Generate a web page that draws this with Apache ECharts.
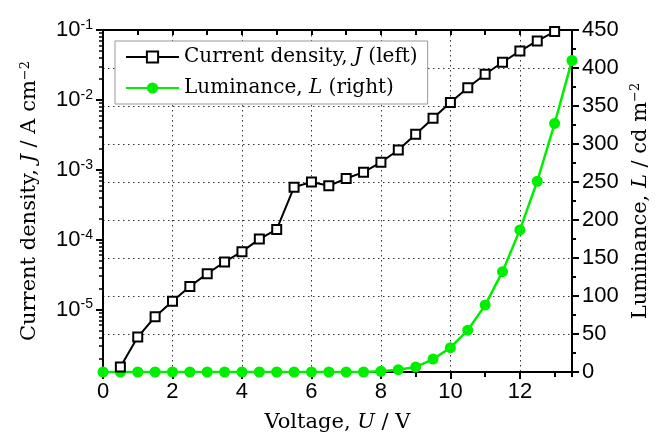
<!DOCTYPE html>
<html><head><meta charset="utf-8">
<script src="https://cdn.jsdelivr.net/npm/echarts@6/dist/echarts.min.js"></script>
<style>html,body{margin:0;padding:0;background:#fff}#c{width:662px;height:438px}</style>
</head><body><div id="c"></div>
<script>
// ---- data ----
const voltageJ = [0.5,1,1.5,2,2.5,3,3.5,4,4.5,5,5.5,6,6.5,7,7.5,8,8.5,9,9.5,10,10.5,11,11.5,12,12.5,13];
const currentDensity = [1.51e-6,4.04e-6,7.9e-6,1.32e-5,2.14e-5,3.27e-5,4.8e-5,6.75e-5,1.02e-4,1.40e-4,5.65e-4,6.7e-4,5.9e-4,7.5e-4,9.25e-4,1.28e-3,1.92e-3,3.22e-3,5.45e-3,9.2e-3,1.49e-2,2.33e-2,3.46e-2,5.0e-2,6.97e-2,9.5e-2];
const voltageL = [0,0.5,1,1.5,2,2.5,3,3.5,4,4.5,5,5.5,6,6.5,7,7.5,8,8.5,9,9.5,10,10.5,11,11.5,12,12.5,13,13.5];
const luminance = [0,0,0,0,0,0,0,0,0,0,0,0,0,0,0,0,1,3,6.5,17,32,55,88,132,187,251,327,410];
const nameJ = 'Current density, J (left)';
const nameL = 'Luminance, L (right)';
const logDecades = [1e-6, 1e-5, 1e-4, 1e-3, 1e-2];
const logMultipliers = [2, 3, 4, 5, 6, 7, 8, 9];

const serif = 'DejaVu Serif';
const sans = 'Liberation Sans';
const green = '#00ee00';
const jMin = 1.28e-6, jMax = 0.1;
const expMin = Math.log10(jMin), expMax = Math.log10(jMax);
const majorJExp = [-5, -4, -3, -2, -1];
const minorJExp = [];
logDecades.forEach(d => logMultipliers.forEach(m => { const v = d * m; if (v > jMin && v < jMax) minorJExp.push(Math.log10(v)); }));

const chart = echarts.init(document.getElementById('c'));
const titleRich = {
  t: {fontFamily: serif, fontSize: 21, color: '#000'},
  i: {fontFamily: serif, fontSize: 21, fontStyle: 'italic', color: '#000'},
  s: {fontFamily: serif, fontSize: 13, color: '#000', verticalAlign: 'top', lineHeight: 8}
};
const axisLine = {show: true, onZero: false, lineStyle: {color: '#000', width: 2}};
const dotted = {show: true, lineStyle: {color: '#333', width: 1, type: [1.5, 3.5]}};
const tick = (len, inside, w) => ({show: true, inside: !!inside, length: len, lineStyle: {color: '#000', width: w || 2}});

chart.setOption({
  animation: false,
  backgroundColor: '#fff',
  grid: {left: 103, right: 90, top: 30, bottom: 65, containLabel: false},
  legend: {
    data: [nameJ, nameL],
    orient: 'vertical',
    left: 115, top: 41,
    padding: [6, 10, 6, 10],
    itemGap: 11,
    itemWidth: 53, itemHeight: 14,
    borderColor: '#999', borderWidth: 1, borderRadius: 0,
    backgroundColor: '#fff',
    formatter: n => n === nameJ ? '{t|Current density, }{i|J}{t| (left)}' : '{t|Luminance, }{i|L}{t| (right)}',
    textStyle: {rich: {
      t: {fontFamily: serif, fontSize: 20, color: '#000'},
      i: {fontFamily: serif, fontSize: 20, fontStyle: 'italic', color: '#000'}
    }}
  },
  xAxis: [
    {type: 'value', min: 0, max: 13.5, interval: 2, position: 'bottom',
     axisLine: axisLine,
     axisTick: tick(7),
     axisLabel: {showMaxLabel: false, fontFamily: sans, fontSize: 22, color: '#000', margin: 9},
     splitLine: dotted,
     name: '{t|Voltage, }{i|U}{t| / V}', nameLocation: 'middle', nameGap: 40,
     nameTextStyle: {rich: titleRich}},
    {type: 'value', min: 0, max: 13.5, interval: 1, position: 'bottom',
     axisLine: {show: false}, axisTick: tick(5),
     axisLabel: {show: false}, splitLine: {show: false}},
    {type: 'value', min: 0, max: 13.5, interval: 1, position: 'top',
     axisLine: axisLine, axisTick: tick(5, true),
     axisLabel: {show: false}, splitLine: {show: false}}
  ],
  yAxis: [
    {type: 'log', logBase: 10, min: jMin, max: jMax, position: 'left',
     axisLine: axisLine,
     axisTick: {show: false},
     axisLabel: {showMinLabel: false, margin: 10,
       formatter: v => '{b|10}{s|' + Math.round(Math.log10(v)) + '}',
       rich: {b: {fontFamily: sans, fontSize: 22, color: '#000', lineHeight: 24},
              s: {fontFamily: sans, fontSize: 14, color: '#000', verticalAlign: 'top', lineHeight: 12}}},
     splitLine: {show: false},
     name: '{t|Current density, }{i|J}{t| / A cm}{s|−2}', nameLocation: 'middle', nameGap: 63,
     nameTextStyle: {rich: titleRich}},
    {type: 'value', min: 0, max: 450, interval: 50, position: 'right',
     axisLine: axisLine,
     axisTick: tick(7),
     minorTick: {show: true, splitNumber: 2, length: 4, lineStyle: {color: '#000', width: 2}},
     axisLabel: {fontFamily: sans, fontSize: 22, color: '#000', margin: 10},
     splitLine: dotted,
     name: '{t|Luminance, }{i|L}{t| / cd m}{s|−2}', nameLocation: 'middle', nameGap: 53,
     nameTextStyle: {rich: titleRich}},
    {type: 'value', min: expMin, max: expMax, position: 'left',
     axisLine: {show: false},
     axisTick: {show: true, length: 7, customValues: majorJExp, lineStyle: {color: '#000', width: 2}},
     axisLabel: {show: false, customValues: majorJExp}, splitLine: {show: false}},
    {type: 'value', min: expMin, max: expMax, position: 'left',
     axisLine: {show: false},
     axisTick: {show: true, length: 4, customValues: minorJExp, lineStyle: {color: '#000', width: 1.5}},
     axisLabel: {show: false, customValues: minorJExp}, splitLine: {show: false}}
  ],
  series: [
    {name: nameL, type: 'line', xAxisIndex: 0, yAxisIndex: 1, z: 2,
     data: voltageL.map((x, i) => [x, luminance[i]]),
     symbol: 'circle', symbolSize: 11, showAllSymbol: true,
     itemStyle: {color: green}, lineStyle: {color: green, width: 2.5}},
    {name: nameJ, type: 'line', xAxisIndex: 0, yAxisIndex: 0, z: 3,
     data: voltageJ.map((x, i) => [x, currentDensity[i]]),
     symbol: 'rect', symbolSize: 9, showAllSymbol: true,
     itemStyle: {color: '#fff', borderColor: '#000', borderWidth: 2},
     lineStyle: {color: '#000', width: 2}}
  ]
});
</script></body></html>
